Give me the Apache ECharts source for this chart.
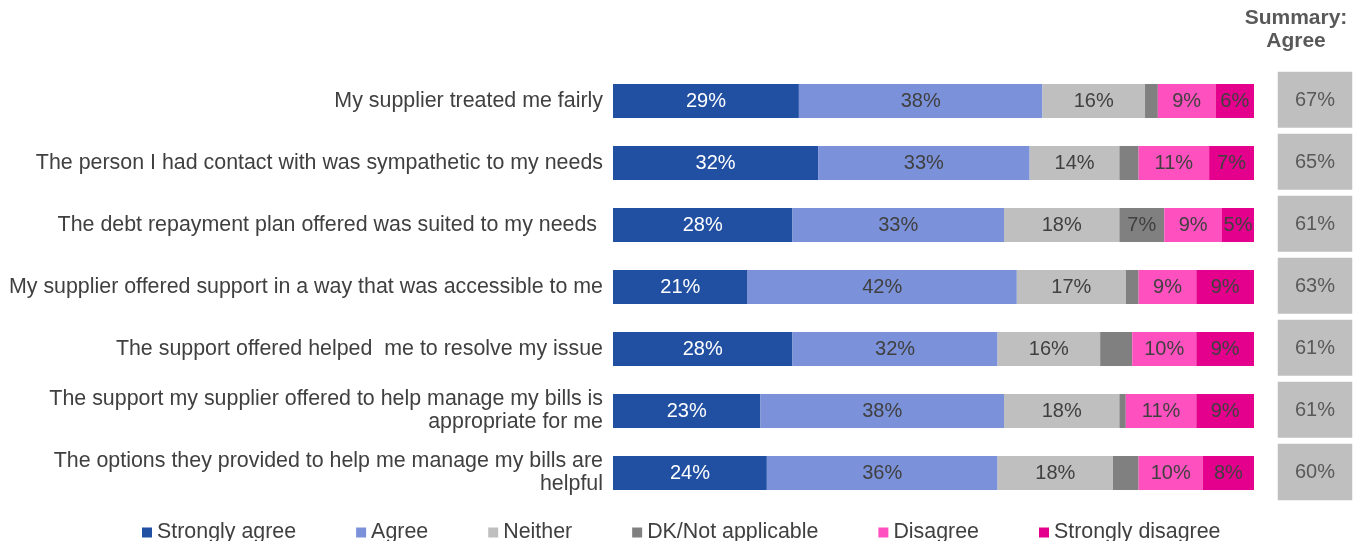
<!DOCTYPE html>
<html>
<head>
<meta charset="utf-8">
<script src="https://cdn.jsdelivr.net/npm/echarts@6/dist/echarts.min.js"></script>
<style>
  html, body { margin: 0; padding: 0; background: #fff; }
  #chart { width: 1364px; height: 541px; }
</style>
</head>
<body>
<div id="chart"></div>
<script>
// Statements about the supplier's support, top to bottom
const categories = [
  'My supplier treated me fairly',
  'The person I had contact with was sympathetic to my needs',
  'The debt repayment plan offered was suited to my needs ',
  'My supplier offered support in a way that was accessible to me',
  'The support offered helped  me to resolve my issue',
  'The support my supplier offered to help manage my bills is\nappropriate for me',
  'The options they provided to help me manage my bills are\nhelpful'
];

// Response shares (%)
const stronglyAgree    = [29, 32, 28, 21, 28, 23, 24];
const agree            = [38, 33, 33, 42, 32, 38, 36];
const neither          = [16, 14, 18, 17, 16, 18, 18];
const dkNotApplicable  = [2, 3, 7, 2, 5, 1, 4];
const disagree         = [9, 11, 9, 9, 10, 11, 10];
const stronglyDisagree = [6, 7, 5, 9, 9, 9, 8];

// Net agree (strongly agree + agree, %)
const summaryAgree = [67, 65, 61, 63, 61, 61, 60];

const FONT = '"Liberation Sans", Arial, sans-serif';
const FS = 21.4;

const segments = [
  { name: 'Strongly agree',    data: stronglyAgree,    color: '#2150a3', text: '#ffffff', minLabel: 0 },
  { name: 'Agree',             data: agree,            color: '#7b91d9', text: '#404040', minLabel: 0 },
  { name: 'Neither',           data: neither,          color: '#bfbfbf', text: '#404040', minLabel: 0 },
  { name: 'DK/Not applicable', data: dkNotApplicable,  color: '#808080', text: '#404040', minLabel: 6 },
  { name: 'Disagree',          data: disagree,         color: '#ff50bf', text: '#404040', minLabel: 0 },
  { name: 'Strongly disagree', data: stronglyDisagree, color: '#e4008c', text: '#404040', minLabel: 0 }
];

const barSeries = segments.map(s => ({
  name: s.name,
  type: 'bar',
  stack: 'total',
  xAxisIndex: 0,
  yAxisIndex: 0,
  barWidth: 34,
  data: s.data,
  itemStyle: { color: s.color },
  label: {
    show: true,
    position: 'inside',
    color: s.text,
    fontFamily: FONT,
    fontSize: 20,
    formatter: p => (p.value >= s.minLabel ? p.value + '%' : '')
  },
  emphasis: { disabled: true }
}));

const summarySeries = {
  name: 'Summary',
  type: 'heatmap',
  xAxisIndex: 1,
  yAxisIndex: 1,
  data: summaryAgree.map((v, i) => [0, i, v]),
  itemStyle: { color: '#bfbfbf', borderColor: '#ffffff', borderWidth: 6 },
  label: {
    show: true,
    color: '#595959',
    fontFamily: FONT,
    fontSize: 20,
    formatter: p => p.value[2] + '%'
  },
  emphasis: { disabled: true }
};

const chart = echarts.init(document.getElementById('chart'), null, { renderer: 'canvas' });
chart.setOption({
  animation: false,
  backgroundColor: '#ffffff',
  textStyle: { fontFamily: FONT },
  title: {
    text: 'Summary:\nAgree',
    left: 1291,
    top: 2,
    textAlign: 'center',
    textStyle: {
      fontFamily: FONT,
      fontSize: 21,
      fontWeight: 'bold',
      color: '#595959',
      lineHeight: 23
    }
  },
  legend: {
    data: segments.map(s => s.name),
    left: 137,
    top: 517,
    icon: 'rect',
    itemWidth: 10,
    itemHeight: 10,
    itemGap: 60,
    textStyle: { fontFamily: FONT, fontSize: FS, color: '#404040' },
    selectedMode: false
  },
  grid: [
    { left: 613, width: 641, top: 70, height: 434 },
    { left: 1275, width: 80, top: 69, height: 434 }
  ],
  xAxis: [
    { type: 'value', gridIndex: 0, min: 0, max: 100, show: false },
    { type: 'category', gridIndex: 1, data: ['Agree'], show: false }
  ],
  yAxis: [
    {
      type: 'category',
      gridIndex: 0,
      data: categories,
      inverse: true,
      axisLine: { show: false },
      axisTick: { show: false },
      splitLine: { show: false },
      axisLabel: {
        margin: 10,
        fontFamily: FONT,
        fontSize: FS,
        lineHeight: 23,
        color: '#404040',
        align: 'right'
      }
    },
    {
      type: 'category',
      gridIndex: 1,
      data: categories,
      inverse: true,
      show: false
    }
  ],
  series: [...barSeries, summarySeries]
});
</script>
</body>
</html>
